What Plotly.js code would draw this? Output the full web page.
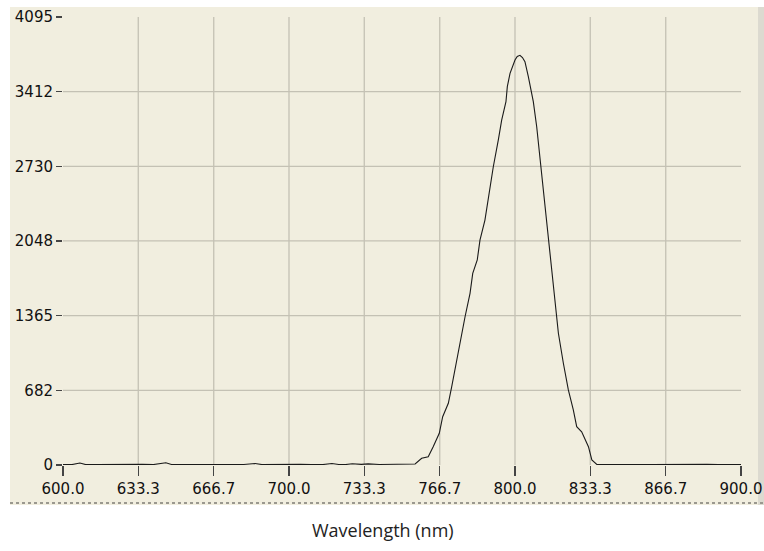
<!DOCTYPE html>
<html>
<head>
<meta charset="utf-8">
<script src="https://cdn.plot.ly/plotly-3.0.1.min.js"></script>
<style>
  html, body { margin: 0; padding: 0; background: #ffffff; }
  #chart { width: 764px; height: 551px; }
</style>
</head>
<body>
<div id="chart"></div>
<script>
// ---- data ----
const wavelength = [600, 604, 607.5, 610, 615, 620, 625, 630, 635, 640, 645.5, 648, 650, 655, 660, 665, 670, 675, 680, 685, 688, 690, 695, 700, 705, 710, 715, 719, 722, 725, 728, 732, 735, 740, 745, 750, 753, 755.8, 758.7, 760, 761.6, 763.8, 766.5, 768, 770.5, 772, 773.9, 776, 777.9, 780.1, 781.3, 783.3, 784.5, 786.7, 788.6, 790.4, 792.6, 794.1, 796, 796.6, 797.8, 800, 801, 802.2, 803.3, 804.4, 805.9, 808.1, 809.6, 811.1, 812.5, 813.7, 814.7, 816.2, 817.7, 819.2, 821.4, 823.6, 825.8, 827.3, 829.5, 831, 832.5, 834, 836.2, 840, 845, 850, 855, 860, 865, 870, 875, 880, 885, 890, 895, 900];
const intensity = [5, 4, 18, 4, 3, 5, 4, 3, 6, 4, 20, 5, 3, 4, 5, 3, 6, 4, 5, 14, 4, 5, 3, 4, 6, 5, 4, 14, 5, 4, 12, 6, 10, 5, 8, 9, 10, 9, 61, 66, 76, 167, 290, 441, 564, 716, 930, 1143, 1355, 1569, 1752, 1874, 2056, 2239, 2514, 2726, 2970, 3153, 3321, 3458, 3580, 3702, 3735, 3745, 3725, 3686, 3549, 3321, 3092, 2788, 2544, 2301, 2056, 1752, 1447, 1204, 930, 686, 503, 350, 304, 229, 167, 46, 5, 4, 6, 4, 5, 4, 5, 8, 5, 4, 6, 4, 5, 4];
const xTickVals = [600, 633.3, 666.7, 700, 733.3, 766.7, 800, 833.3, 866.7, 900];
const xTickText = ['600.0', '633.3', '666.7', '700.0', '733.3', '766.7', '800.0', '833.3', '866.7', '900.0'];
const yTickVals = [0, 682, 1365, 2048, 2730, 3412, 4095];
const yTickText = ['0', '682', '1365', '2048', '2730', '3412', '4095'];
const xTitle = 'Wavelength (nm)';

// ---- layout geometry ----
const W = 764, H = 551;
const m = {l: 63, r: 23, t: 17, b: 86};
const pw = W - m.l - m.r, ph = H - m.t - m.b;
const px = v => (v - m.l) / pw;          // pixel -> paper x
const py = v => (H - m.b - v) / ph;      // pixel -> paper y
const gridColor = '#C4C1B4';

const shapes = [
  // beige panel
  {type: 'rect', xref: 'paper', yref: 'paper', layer: 'below',
   x0: px(10), x1: px(758), y0: py(505), y1: py(7),
   fillcolor: '#F1EEDF', line: {width: 0}},
  // right shaded edge
  {type: 'rect', xref: 'paper', yref: 'paper', layer: 'below',
   x0: px(758), x1: px(764), y0: py(505), y1: py(7),
   fillcolor: '#DCDAD0', line: {width: 0}},
  // dotted bottom border
  {type: 'line', xref: 'paper', yref: 'paper', layer: 'below',
   x0: px(10), x1: px(764), y0: py(503), y1: py(503),
   line: {color: '#9A988F', width: 2, dash: 'dot'}}
];
// interior grid lines (not at the range edges)
xTickVals.slice(1, -1).forEach(v => shapes.push({
  type: 'line', xref: 'x', yref: 'paper', layer: 'below',
  x0: v, x1: v, y0: 0, y1: 1, line: {color: gridColor, width: 1.3}}));
yTickVals.slice(1, -1).forEach(v => shapes.push({
  type: 'line', xref: 'paper', yref: 'y', layer: 'below',
  x0: 0, x1: 1, y0: v, y1: v, line: {color: gridColor, width: 1.3}}));

const trace = {
  x: wavelength, y: intensity, type: 'scatter', mode: 'lines',
  line: {color: '#1A1A1A', width: 1.1}, hoverinfo: 'skip'
};

const tickFont = {family: 'DejaVu Sans', size: 15, color: '#111'};
const layout = {
  width: W, height: H, margin: m,
  paper_bgcolor: '#ffffff', plot_bgcolor: 'rgba(0,0,0,0)',
  showlegend: false,
  xaxis: {range: [600, 900], tickmode: 'array', tickvals: xTickVals, ticktext: xTickText,
          showgrid: false, zeroline: false, showline: false,
          ticks: 'outside', ticklen: 10, tickwidth: 1.2, tickcolor: '#444',
          tickfont: tickFont, fixedrange: true},
  yaxis: {range: [0, 4095], tickmode: 'array', tickvals: yTickVals, ticktext: yTickText,
          showgrid: false, zeroline: false, showline: false,
          ticks: 'outside', ticklen: 6, tickwidth: 1.2, tickcolor: '#444',
          tickfont: tickFont, fixedrange: true},
  shapes: shapes,
  annotations: [{
    text: xTitle, xref: 'paper', yref: 'paper', x: px(383), y: py(530),
    xanchor: 'center', yanchor: 'middle', showarrow: false,
    font: {family: 'Open Sans', size: 18, color: '#222'}
  }]
};

Plotly.newPlot('chart', [trace], layout, {staticPlot: true, displayModeBar: false});
</script>
</body>
</html>
